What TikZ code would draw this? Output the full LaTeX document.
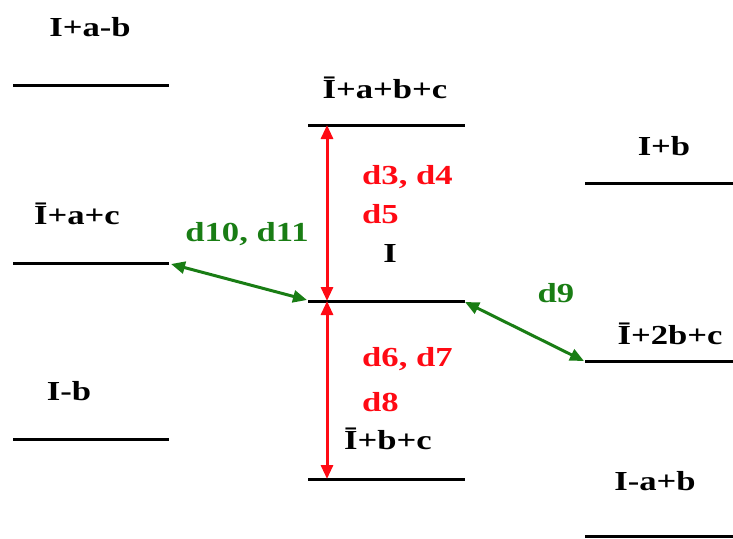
\documentclass[tikz,border=0pt]{standalone}
\usepackage{fontspec}
\setmainfont{Liberation Serif}
\usetikzlibrary{arrows.meta}
\definecolor{lvlred}{RGB}{255,10,20}
\definecolor{lvlgreen}{RGB}{25,125,20}
\tikzset{
  level/.style={line width=3pt, black},
  lbl/.style={inner sep=0pt, font=\fontsize{27.5}{29}\selectfont\bfseries},
  redlbl/.style={lbl, text=lvlred, anchor=west},
  greenlbl/.style={lbl, text=lvlgreen},
  redarrow/.style={line width=3pt, lvlred, {Triangle[length=14pt,width=12pt]}-{Triangle[length=14pt,width=12pt]}},
  greenarrow/.style={line width=3pt, lvlgreen, {Triangle[length=14pt,width=12pt]}-{Triangle[length=14pt,width=12pt]}}
}
\newcommand{\wtext}[1]{\scalebox{1.26}[1]{#1}}
\begin{document}
\begin{tikzpicture}[x=1pt,y=-1pt]
\useasboundingbox (0,0) rectangle (733,538);
% level end points
\coordinate (L1a) at (13,85);  \coordinate (L1b) at (169,85);
\coordinate (L2a) at (13,263); \coordinate (L2b) at (169,263);
\coordinate (L3a) at (13,439); \coordinate (L3b) at (169,439);
\coordinate (M1a) at (308,125); \coordinate (M1b) at (465,125);
\coordinate (M2a) at (308,301); \coordinate (M2b) at (465,301);
\coordinate (M3a) at (308,479); \coordinate (M3b) at (465,479);
\coordinate (R1a) at (585,183); \coordinate (R1b) at (733,183);
\coordinate (R2a) at (585,361); \coordinate (R2b) at (733,361);
\coordinate (R3a) at (585,536); \coordinate (R3b) at (733,536);
\foreach \p in {L1,L2,L3,M1,M2,M3,R1,R2,R3} \draw[level] (\p a) -- (\p b);
% arrow points
\coordinate (rt) at (327,125);
\coordinate (rm) at (327,301);
\coordinate (rb) at (327,479);
\coordinate (gl) at (171,264);
\coordinate (gm) at (307,300);
\coordinate (gm2) at (465,302);
\coordinate (gr) at (584,361);
\draw[redarrow] (rt) -- (rm);
\draw[redarrow] (rm) -- (rb);
\draw[greenarrow] (gl) -- (gm);
\draw[greenarrow] (gm2) -- (gr);
% labels
\node[lbl] (t1) at (90,27) {\wtext{I+a-b}};
\node[lbl] (t2) at (77,214) {\wtext{Ī+a+c}};
\node[lbl] (t3) at (69,391) {\wtext{I-b}};
\node[lbl] (t4) at (385,88) {\wtext{Ī+a+b+c}};
\node[lbl] (t5) at (390,253) {\wtext{I}};
\node[lbl] (t6) at (388,439) {\wtext{Ī+b+c}};
\node[lbl] (t7) at (664,146) {\wtext{I+b}};
\node[lbl] (t8) at (670,334) {\wtext{Ī+2b+c}};
\node[lbl] (t9) at (655,481) {\wtext{I-a+b}};
\node[redlbl] (d34) at (362,177) {\wtext{d3, d4}};
\node[redlbl] (d5) at (362,214) {\wtext{d5}};
\node[redlbl] (d67) at (362,359) {\wtext{d6, d7}};
\node[redlbl] (d8) at (362,402) {\wtext{d8}};
\node[greenlbl] (d1011) at (247,234) {\wtext{d10, d11}};
\node[greenlbl] (d9) at (556,293) {\wtext{d9}};
\end{tikzpicture}
\end{document}
